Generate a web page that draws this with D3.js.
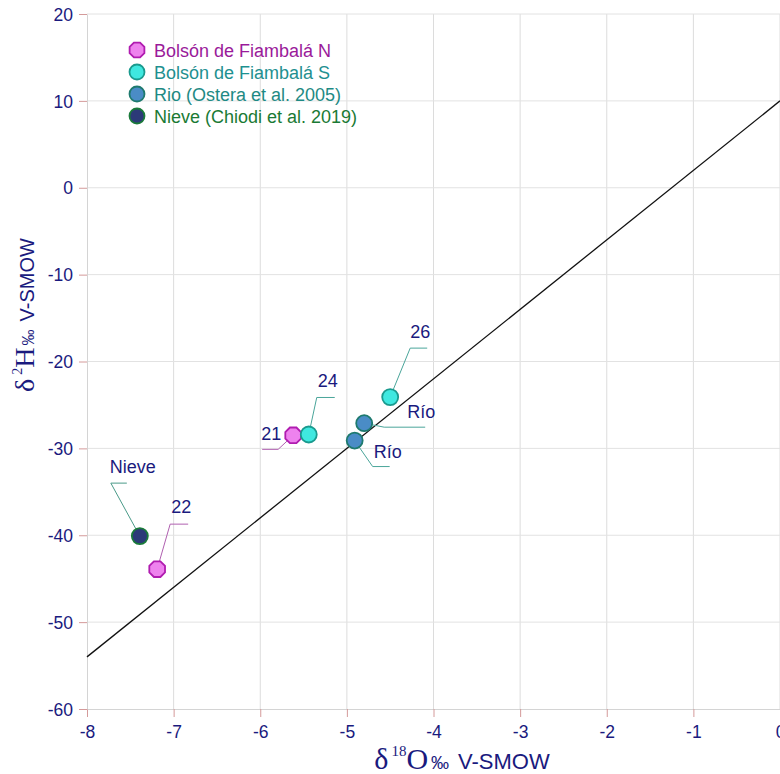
<!DOCTYPE html>
<html>
<head>
<meta charset="utf-8">
<script src="https://cdnjs.cloudflare.com/ajax/libs/d3/7.8.5/d3.min.js"></script>
<style>
  body { margin: 0; background: #fff; }
  svg { display: block; font-family: "Liberation Sans", Arial, sans-serif; }
</style>
</head>
<body>
<div id="chart"></div>
<script>
// --- data ---
const seriesNames = ["Bolsón de Fiambalá N", "Bolsón de Fiambalá S", "Rio (Ostera et al. 2005)", "Nieve (Chiodi et al. 2019)"];
const northO = [-5.62, -7.19];
const northH = [-28.5, -43.9];
const northLabels = ["21", "22"];
const southO = [-5.44, -4.50];
const southH = [-28.4, -24.1];
const southLabels = ["24", "26"];
const rioO = [-4.80, -4.91];
const rioH = [-27.1, -29.1];
const rioLabels = ["Río", "Río"];
const snowO = [-7.39];
const snowH = [-40.1];
const snowLabels = ["Nieve"];
const xTicks = [-8, -7, -6, -5, -4, -3, -2, -1, 0];
const yTicks = [-60, -50, -40, -30, -20, -10, 0, 10, 20];
const gmwlO = [-8, 0]; // line d2H = 8*d18O + 10

// --- layout / style (not data) ---
const W = 780, H = 774;
const m = { left: 87, right: 0, top: 14, bottom: 65 };
const styles = [
  { fill: "#ee82ee", stroke: "#b01cb0", text: "#9a1a9a", lead: "#b060b0", octagon: true },
  { fill: "#3fe8e0", stroke: "#1a9a8e", text: "#1e9090", lead: "#4aa59a" },
  { fill: "#4a8cc6", stroke: "#1e7a6e", text: "#1e8a84", lead: "#4aa59a" },
  { fill: "#2c3a78", stroke: "#1a7a3a", text: "#1a7a34", lead: "#4a9a88" }
];
// leader line layout per label: elbow offset, horizontal length, text offset
const leaders = [
  [{ ex: -15, ey: 14, hl: -16, tx: -22, ty: 5 }, { ex: 13, ey: -45, hl: 18, tx: 24, ty: -56 }],
  [{ ex: 8, ey: -37, hl: 18, tx: 19, ty: -47 }, { ex: 20, ey: -49, hl: 17, tx: 30, ty: -59 }],
  [{ ex: 20, ey: 4, hl: 41, tx: 57, ty: -5 }, { ex: 18, ey: 26, hl: 17, tx: 33, ty: 17 }],
  [{ ex: -29, ey: -53, hl: 16, tx: -7, ty: -63 }]
];

const series = [
  { o: northO, h: northH, labels: northLabels },
  { o: southO, h: southH, labels: southLabels },
  { o: rioO, h: rioH, labels: rioLabels },
  { o: snowO, h: snowH, labels: snowLabels }
];

const x = d3.scaleLinear().domain([-8, 0]).range([m.left, W - m.right]);
const y = d3.scaleLinear().domain([-60, 20]).range([H - m.bottom, m.top]);

const svg = d3.select("#chart").append("svg")
  .attr("width", W).attr("height", H);

const navy = "#1a1a7e";
const serif = "'Liberation Serif', 'Times New Roman', serif";

// grid
svg.append("g").selectAll("line").data(xTicks.slice(1)).join("line")
  .attr("x1", d => x(d)).attr("x2", d => x(d))
  .attr("y1", y(-60)).attr("y2", y(20))
  .attr("stroke", "#dcdcdc").attr("stroke-width", 1);
svg.append("g").selectAll("line").data(yTicks.slice(1)).join("line")
  .attr("x1", x(-8)).attr("x2", W)
  .attr("y1", d => y(d)).attr("y2", d => y(d))
  .attr("stroke", "#e2e2e2").attr("stroke-width", 1);

// axes
const fmt = d => String(d);
const xAxis = svg.append("g")
  .attr("transform", `translate(0,${y(-60)})`)
  .call(d3.axisBottom(x).tickValues(xTicks).tickSize(8).tickPadding(9).tickSizeOuter(0).tickFormat(fmt));
const yAxis = svg.append("g")
  .attr("transform", `translate(${x(-8)},0)`)
  .call(d3.axisLeft(y).tickValues(yTicks).tickSize(8).tickPadding(6).tickSizeOuter(0).tickFormat(fmt));
[xAxis, yAxis].forEach(a => {
  a.select(".domain").attr("stroke", "#d4d4d4");
  a.selectAll(".tick line").attr("stroke", "#d49a9a");
  a.selectAll(".tick text")
    .attr("fill", navy)
    .attr("font-size", 17.5)
    .attr("font-family", "'Liberation Sans', Arial, sans-serif");
});
yAxis.selectAll(".tick text").attr("dy", "0.35em");

// GMWL
svg.append("line")
  .attr("x1", x(gmwlO[0])).attr("y1", y(8 * gmwlO[0] + 10))
  .attr("x2", x(gmwlO[1])).attr("y2", y(8 * gmwlO[1] + 10))
  .attr("stroke", "#111").attr("stroke-width", 1.3);

// octagon path
function octagon(r) {
  const pts = d3.range(8).map(i => {
    const a = Math.PI / 8 + i * Math.PI / 4;
    return [r * Math.cos(a), r * Math.sin(a)];
  });
  return "M" + pts.map(p => p.join(",")).join("L") + "Z";
}

// leader lines and labels
series.forEach((s, si) => {
  s.o.forEach((ov, i) => {
    const px = x(ov), py = y(s.h[i]);
    const L = leaders[si][i];
    const ex = px + L.ex, ey = py + L.ey;
    svg.append("path")
      .attr("d", `M${px},${py}L${ex},${ey}L${ex + L.hl},${ey}`)
      .attr("fill", "none")
      .attr("stroke", styles[si].lead)
      .attr("stroke-width", 1);
    svg.append("text")
      .attr("x", px + L.tx).attr("y", py + L.ty)
      .attr("text-anchor", "middle")
      .attr("font-size", 18)
      .attr("fill", navy)
      .text(s.labels[i]);
  });
});

// points
series.forEach((s, si) => {
  const st = styles[si];
  s.o.forEach((ov, i) => {
    const g = svg.append("g").attr("transform", `translate(${x(ov)},${y(s.h[i])})`);
    if (st.octagon) g.append("path").attr("d", octagon(8.5));
    else g.append("circle").attr("r", 8);
    g.select("*").attr("fill", st.fill).attr("stroke", st.stroke).attr("stroke-width", 1.8);
  });
});

// legend
const legend = svg.append("g").attr("transform", "translate(137,50)");
seriesNames.forEach((name, i) => {
  const st = styles[i];
  const g = legend.append("g").attr("transform", `translate(0,${i * 22})`);
  if (st.octagon) g.append("path").attr("d", octagon(8));
  else g.append("circle").attr("r", 7.5);
  g.select("*").attr("fill", st.fill).attr("stroke", st.stroke).attr("stroke-width", 1.8);
  g.append("text").attr("x", 17).attr("y", 6.5)
    .attr("font-size", 18).attr("fill", st.text).text(name);
});

// axis titles
const xt = svg.append("text")
  .attr("x", 462).attr("y", 769)
  .attr("text-anchor", "middle").attr("fill", navy);
xt.append("tspan").attr("font-family", serif).attr("font-size", 30).text("δ");
xt.append("tspan").attr("font-family", serif).attr("font-size", 15).attr("dy", -13).attr("dx", 3).text("18");
xt.append("tspan").attr("font-family", serif).attr("font-size", 30).attr("dy", 13).text("O");
xt.append("tspan").attr("font-size", 18).attr("dx", 3).text("‰");
xt.append("tspan").attr("font-size", 22).attr("dx", 9).text("V-SMOW");

const yt = svg.append("text")
  .attr("transform", "translate(34,315) rotate(-90)")
  .attr("text-anchor", "middle").attr("fill", navy);
yt.append("tspan").attr("font-family", serif).attr("font-size", 28).text("δ");
yt.append("tspan").attr("font-family", serif).attr("font-size", 14).attr("dy", -12).attr("dx", 4).text("2");
yt.append("tspan").attr("font-family", serif).attr("font-size", 28).attr("dy", 12).text("H");
yt.append("tspan").attr("font-size", 16).attr("dx", 2).text("‰");
yt.append("tspan").attr("font-size", 20).attr("dx", 8).text("V-SMOW");
</script>
</body>
</html>
